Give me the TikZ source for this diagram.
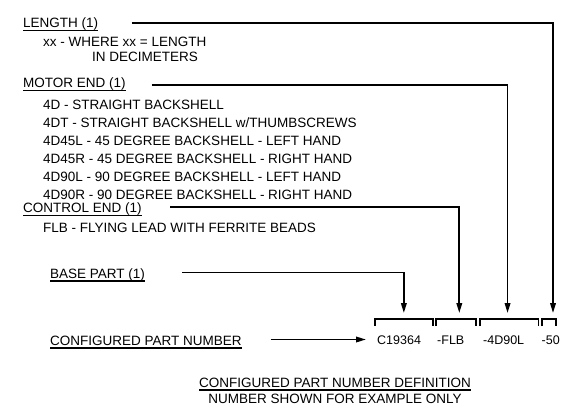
\documentclass[tikz,border=0pt]{standalone}
\usepackage{fontspec}
\setmainfont{Liberation Sans}
\usetikzlibrary{arrows.meta}

\newsavebox{\ulsave}
\newcommand{\ulbl}[1]{\sbox{\ulsave}{#1}\rlap{\rule[-3.6pt]{\wd\ulsave}{1.2pt}}\usebox{\ulsave}}

\tikzset{
  txt/.style={anchor=base west, inner sep=0pt, font=\fontsize{13.5}{16}\selectfont},
  ctxt/.style={txt, anchor=base},
  ptxt/.style={txt, font=\fontsize{12.5}{15}\selectfont},
  conn/.style={line width=1.8pt, -{Triangle[length=10pt,width=5.5pt]}},
  brk/.style={inner sep=0pt, minimum height=6.7pt},
  brkline/.style={line width=1.8pt},
}

\begin{document}
\begin{tikzpicture}[x=1pt,y=1pt]
    \useasboundingbox (0,0) rectangle (573,413);
    % headings and option lists
    \node[txt] (len) at (23,385.5) {\ulbl{LENGTH (1)}};
    \node[txt] (lena) at (43,366) {xx - WHERE xx = LENGTH};
    \node[txt] (lenb) at (92,351) {IN DECIMETERS};
    \node[txt] (mot) at (23,325.5) {\ulbl{MOTOR END (1)}};
    \node[txt] (mota) at (43,303.5) {4D - STRAIGHT BACKSHELL};
    \node[txt] (motb) at (43,285.5) {4DT - STRAIGHT BACKSHELL w/THUMBSCREWS};
    \node[txt] (motc) at (43,267.5) {4D45L - 45 DEGREE BACKSHELL - LEFT HAND};
    \node[txt] (motd) at (43,249.5) {4D45R - 45 DEGREE BACKSHELL - RIGHT HAND};
    \node[txt] (mote) at (43,231.5) {4D90L - 90 DEGREE BACKSHELL - LEFT HAND};
    \node[txt] (motf) at (43,213.5) {4D90R - 90 DEGREE BACKSHELL - RIGHT HAND};
    \node[txt] (ctl) at (23,200.5) {\ulbl{CONTROL END (1)}};
    \node[txt] (ctla) at (43,181) {FLB - FLYING LEAD WITH FERRITE BEADS};
    \node[txt] (base) at (50,135) {\ulbl{BASE PART (1)}};
    \node[txt] (cfg) at (50,68) {\ulbl{CONFIGURED PART NUMBER}};
    % brackets over the part number
    \node[brk, minimum width=57.7pt] (basebrk) at (403.85,90.35) {};
    \node[brk, minimum width=40pt] (ctlbrk) at (456,90.35) {};
    \node[brk, minimum width=58.3pt] (motbrk) at (509.15,90.35) {};
    \node[brk, minimum width=13.4pt] (lenbrk) at (549,90.35) {};
    \foreach \b in {basebrk,ctlbrk,motbrk,lenbrk}
      \draw[brkline] (\b.south west) |- (\b.north) -| (\b.south east);
    \node[ptxt] (basetxt) at (377,69) {C19364};
    \node[ptxt] (ctltxt) at (437,69) {-FLB};
    \node[ptxt] (mottxt) at (483,69) {-4D90L};
    \node[ptxt] (lentxt) at (541.5,69) {-50};
    % leaders
    \coordinate (lenfrom) at (131.7,389.7);
    \coordinate (motfrom) at (151.7,328);
    \coordinate (ctlfrom) at (170,205.7);
    \coordinate (basefrom) at (182,140.5);
    \coordinate (cfgfrom) at (270.7,73.5);
    \coordinate (cfgto) at (366,73.5);
    \draw[conn, shorten >=6pt] (lenfrom) -| ([xshift=4pt]lenbrk.north);
    \draw[conn, shorten >=6pt] (motfrom) -| ([xshift=-1.6pt]motbrk.north);
    \draw[conn, shorten >=6pt] (ctlfrom) -| ([xshift=3.3pt]ctlbrk.north);
    \draw[conn, shorten >=6pt] (basefrom) -| (basebrk.north);
    \draw[conn] (cfgfrom) -- (cfgto);
    % title
    \node[ctxt] (title) at (335,26) {\ulbl{CONFIGURED PART NUMBER DEFINITION}};
    \node[ctxt] (note) at (335,9.5) {NUMBER SHOWN FOR EXAMPLE ONLY};
  \end{tikzpicture}
\end{document}
